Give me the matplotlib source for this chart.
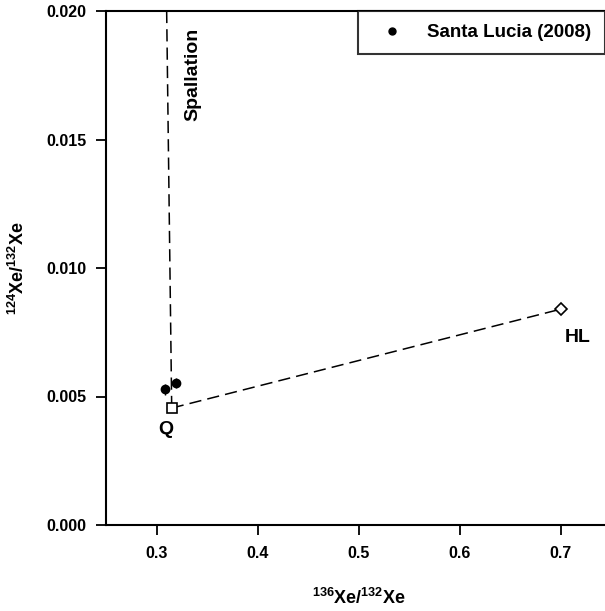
import matplotlib.pyplot as plt
from matplotlib.lines import Line2D

plt.rcParams['font.family'] = ['Liberation Sans', 'DejaVu Sans']
plt.rcParams['font.weight'] = 'bold'
plt.rcParams['mathtext.fontset'] = 'custom'
plt.rcParams['mathtext.rm'] = 'Liberation Sans:bold'
plt.rcParams['mathtext.bf'] = 'Liberation Sans:bold'
plt.rcParams['mathtext.it'] = 'Liberation Sans:bold'

# Santa Lucia (2008) measurements
sl_x = [0.308, 0.319]
sl_y = [0.00528, 0.00552]
sl_xerr = [0.004, 0.001]
sl_yerr = [0.00022, 0.00020]

# end-members
q_x, q_y = 0.315, 0.00455
hl_x, hl_y = 0.700, 0.00840
spall_x, spall_y = 0.310, 0.0200

fig = plt.figure(figsize=(6.05, 6.11), dpi=100)
ax = fig.add_axes([106 / 605, 86 / 611, 1 - 106 / 605, 514 / 611])

dash = (0, (8, 4))
ax.plot([q_x, spall_x], [q_y, spall_y], color='black', lw=1.1, linestyle=dash)
ax.plot([q_x, hl_x], [q_y, hl_y], color='black', lw=1.1, linestyle=dash)

ax.errorbar(sl_x, sl_y, xerr=sl_xerr, yerr=sl_yerr, fmt='o', color='black',
            ms=6, elinewidth=1, capsize=0, zorder=4)
ax.plot([q_x], [q_y], marker='s', ms=6.5, mfc='white', mec='black', mew=1.2, zorder=5)
ax.plot([hl_x], [hl_y], marker='D', ms=6, mfc='white', mec='black', mew=1.2, zorder=5)

ax.text(q_x - 0.006, q_y - 0.00085, 'Q', fontsize=14, fontweight='bold', ha='center', va='center')
ax.text(hl_x + 0.017, hl_y - 0.0011, 'HL', fontsize=14, fontweight='bold', ha='center', va='center')
ax.text(0.336, 0.01935, 'Spallation', fontsize=14, fontweight='bold', rotation=90,
        ha='center', va='top')

ax.set_xlim(0.25, 0.7436)
ax.set_ylim(0.0, 0.020)
ax.set_xticks([0.3, 0.4, 0.5, 0.6, 0.7])
ax.set_xticklabels(['0.3', '0.4', '0.5', '0.6', '0.7'])
ax.set_yticks([0.000, 0.005, 0.010, 0.015, 0.020])
ax.set_yticklabels(['0.000', '0.005', '0.010', '0.015', '0.020'])
ax.tick_params(direction='out', length=7, width=1.3, labelsize=11.5)
ax.tick_params(axis='x', pad=8)
ax.tick_params(axis='y', pad=7)
for lab in ax.get_xticklabels() + ax.get_yticklabels():
    lab.set_fontweight('bold')

for s in ['left', 'bottom', 'top']:
    ax.spines[s].set_linewidth(1.5)
ax.spines['right'].set_visible(False)

fig.text(359 / 605, 1 - 598 / 611, '$^{136}$Xe/$^{132}$Xe', fontsize=13, fontweight='bold',
         ha='center', va='center')
fig.text(18 / 605, 1 - 268 / 611, '$^{124}$Xe/$^{132}$Xe', fontsize=13, fontweight='bold',
         ha='center', va='center', rotation=90)

proxy = Line2D([], [], marker='o', color='black', linestyle='none', ms=5)
leg = ax.legend([proxy], ['Santa Lucia (2008)'], loc='upper left',
                bbox_to_anchor=((358 - 106) / 499, 1.0), frameon=True, fancybox=False,
                edgecolor='black', fontsize=13.5, borderpad=0.7, handlelength=2.2,
                handletextpad=0.8, borderaxespad=0)
leg.get_frame().set_linewidth(1.5)
for t in leg.get_texts():
    t.set_fontweight('bold')

fig.savefig('out.png', dpi=100)
